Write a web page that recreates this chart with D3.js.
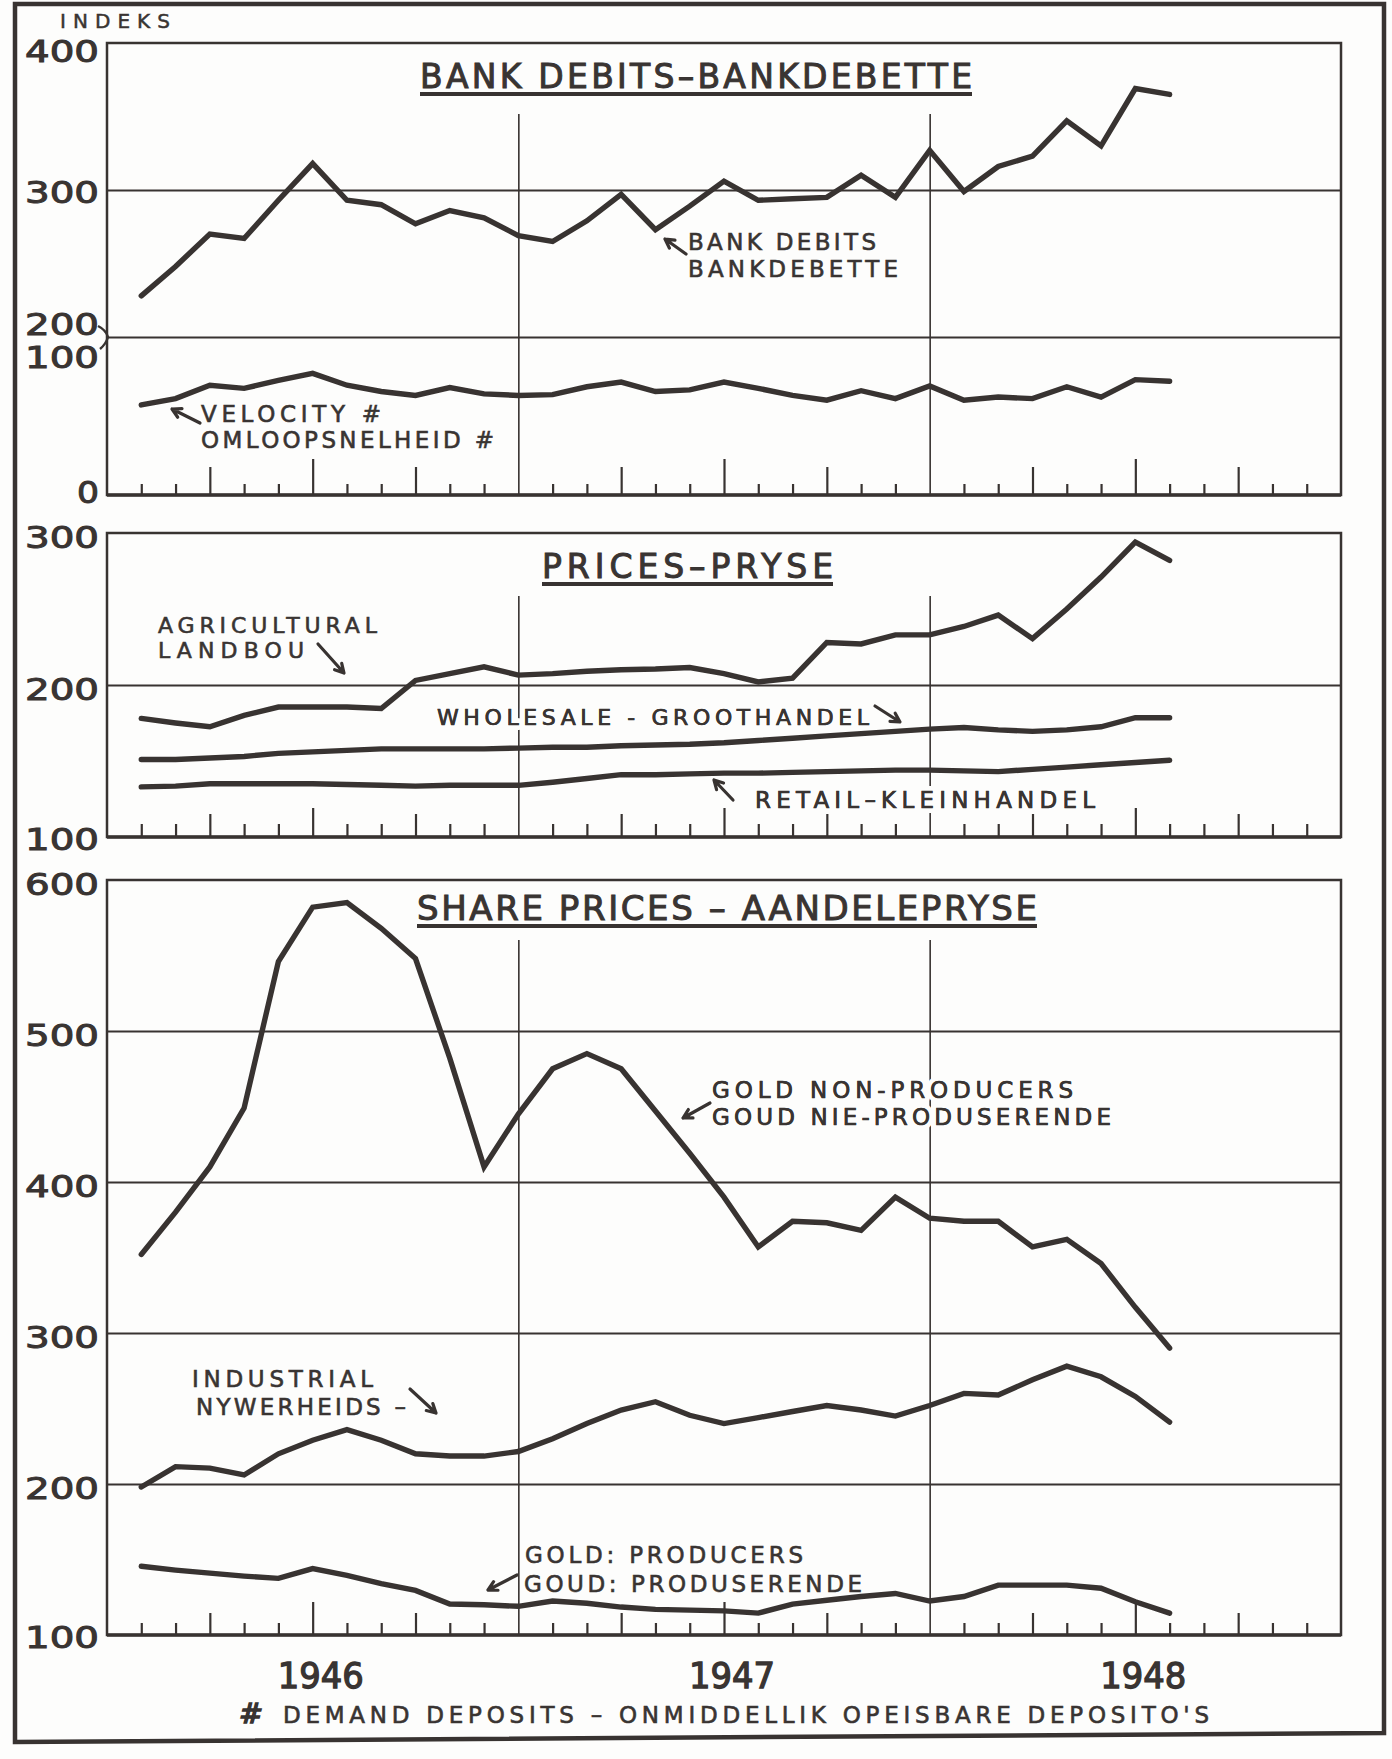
<!DOCTYPE html>
<html>
<head>
<meta charset="utf-8">
<script src="https://cdn.jsdelivr.net/npm/d3@7"></script>
<style>
  body { margin: 0; background: #fdfdfc; }
  svg { display: block; }
  text { font-family: "DejaVu Sans", sans-serif; fill: #3a3533; }
</style>
</head>
<body>
<svg id="chart" width="1392" height="1759"></svg>
<script>
// month index counted from Dec 1945 = 0; data run Jan 1946 (1) .. Jul 1948 (31)
const months = d3.range(1, 32);
const years = ["1946", "1947", "1948"];

const bankDebits = [228, 248, 270, 267, 293, 318, 293, 290, 277, 286, 281, 269, 265, 279, 297, 273,
  289, 306, 293, 294, 295, 310, 295, 327, 299, 316, 323, 347, 330, 369, 365];
const velocity = [57, 61, 69.5, 67.5, 72.5, 77, 69.5, 65.5, 63, 68, 64, 63, 63.5, 68.5, 71.5, 65.5,
  66.5, 71.5, 67.5, 63, 60, 66, 61, 69, 60, 62, 61, 68.5, 62, 73, 72];

const agricultural = [178, 175, 172.5, 180, 185.5, 185.5, 185.5, 184.5, 203, 207.5, 212, 206.5, 207.5, 209, 210, 210.5,
  211.5, 207.5, 202, 204.5, 228, 227, 233, 233, 238.5, 246, 230.5, 250, 271, 294, 282];
const wholesale = [151, 151, 152, 153, 155, 156, 157, 158, 158, 158, 158, 158.5, 159, 159, 160, 160.5,
  161, 162, 163.5, 165, 166.5, 168, 169.5, 171, 172, 170.5, 169.5, 170.5, 172.5, 178.5, 178.5];
const retail = [133, 133.5, 135, 135, 135, 135, 134.5, 134, 133.5, 134, 134, 134, 136, 138.5, 141, 141,
  141.5, 142, 142, 142.5, 143, 143.5, 144, 144, 143.5, 143, 144.5, 146, 147.5, 149, 150.5];

const goldNonProducers = [352, 380, 410, 449, 546, 582, 585, 568, 548, 482, 410, 445, 475, 485, 475, 447,
  419, 390, 357, 374, 373, 368, 390, 376, 374, 374, 357, 362, 346, 317, 290];
const industrial = [198, 211.5, 210.5, 206, 220, 229, 236, 229, 220, 218.5, 218.5, 221.5, 230, 240, 249, 254.5,
  245.5, 240, 244, 248, 252, 249, 245, 252, 260, 259, 269, 278, 271, 258, 241];
const goldProducers = [145.5, 143, 141, 139, 137.5, 144, 139.5, 134, 129.5, 120.5, 120, 119, 122.5, 121, 118.5, 117,
  116.5, 116, 114.5, 120.5, 123, 125.5, 127.5, 122.5, 125.5, 133, 133, 133, 131, 122, 114.5];

const bankTicks = [400, 300, 200];
const velTicks = [100, 0];
const priceTicks = [300, 200, 100];
const shareTicks = [600, 500, 400, 300, 200, 100];

const ink = "#383331";
const paper = "#fdfdfc";
const svg = d3.select("#chart");

const x = d3.scaleLinear().domain([0, 36]).range([107, 1341]);
const yBank = d3.scaleLinear().domain([200, 400]).range([337, 43]);
const yVel = d3.scaleLinear().domain([0, 100]).range([495, 337]);
const yPrice = d3.scaleLinear().domain([100, 300]).range([837, 533]);
const yShare = d3.scaleLinear().domain([100, 600]).range([1635, 880]);

// outer frame
svg.append("path")
  .attr("d", "M15,4 L1384,4 L1384,1733 L15,1742 Z")
  .attr("fill", "none").attr("stroke", ink).attr("stroke-width", 4.5);

const panels = [
  { top: 43, bottom: 495, gridTop: 114, ticks: [11, 28, 36], grid: [[yBank, [300, 200]]] },
  { top: 533, bottom: 837, gridTop: 596, ticks: [13, 23, 29], grid: [[yPrice, [200]]] },
  { top: 880, bottom: 1635, gridTop: 940, ticks: [12, 22, 33], grid: [[yShare, [500, 400, 300, 200]]] }
];

const w = x(36) - x(0);
const minorK = d3.range(1, 36).filter(k => k % 3 !== 0);
const quarterK = d3.range(1, 36).filter(k => k % 12 === 3 || k % 12 === 9);
const midK = d3.range(1, 36).filter(k => k % 12 === 6);

panels.forEach(p => {
  const g = svg.append("g").attr("color", ink);

  // horizontal grid
  p.grid.forEach(([scale, vals]) => {
    g.append("g")
      .attr("transform", `translate(${x(0)},0)`)
      .call(d3.axisLeft(scale).tickValues(vals).tickSize(-w).tickFormat(""))
      .call(a => a.select(".domain").remove())
      .selectAll("line").attr("stroke-width", 2.1);
  });

  // year dividers
  g.append("g")
    .attr("transform", `translate(0,${p.bottom})`)
    .call(d3.axisBottom(x).tickValues([12, 24]).tickSize(-(p.bottom - p.gridTop)).tickFormat(""))
    .call(a => a.select(".domain").remove())
    .selectAll("line").attr("stroke-width", 1.6);

  // month ticks
  [[minorK, p.ticks[0]], [quarterK, p.ticks[1]], [midK, p.ticks[2]]].forEach(([ks, len]) => {
    g.append("g")
      .attr("transform", `translate(0,${p.bottom})`)
      .call(d3.axisBottom(x).tickValues(ks).tickSize(-len).tickFormat(""))
      .call(a => a.select(".domain").remove())
      .selectAll("line").attr("stroke-width", 2.2);
  });

  g.append("rect")
    .attr("x", x(0)).attr("y", p.top)
    .attr("width", w).attr("height", p.bottom - p.top)
    .attr("fill", "none").attr("stroke", ink).attr("stroke-width", 2.5);
  g.append("line")
    .attr("x1", x(0)).attr("x2", x(36))
    .attr("y1", p.bottom).attr("y2", p.bottom)
    .attr("stroke", ink).attr("stroke-width", 3.4);
});

// y labels
function yLabel(v, y, dy) {
  const s = String(v);
  svg.append("text")
    .attr("x", 99).attr("y", y + dy)
    .attr("text-anchor", "end")
    .attr("font-size", 30)
    .attr("stroke", ink).attr("stroke-width", 1)
    .attr("textLength", s.length === 1 ? 22 : 74)
    .attr("lengthAdjust", "spacingAndGlyphs")
    .text(s);
}
bankTicks.forEach(v => yLabel(v, yBank(v), v === 400 ? 19 : v === 200 ? -2 : 13));
velTicks.forEach(v => yLabel(v, yVel(v), v === 100 ? 31 : 8));
priceTicks.forEach(v => yLabel(v, yPrice(v), v === 100 ? 13 : 15));
shareTicks.forEach(v => yLabel(v, yShare(v), v === 100 ? 13 : 15));

// bracket joining 200 / 100
svg.append("path")
  .attr("d", "M98,326 Q106,330 108,337 Q106,344 100,349")
  .attr("fill", "none").attr("stroke", ink).attr("stroke-width", 2.4);

// data lines
function series(data, scale) {
  const line = d3.line().x((d, i) => x(months[i])).y(d => scale(d));
  svg.append("path")
    .attr("d", line(data))
    .attr("fill", "none")
    .attr("stroke", ink)
    .attr("stroke-width", 5.4)
    .attr("stroke-linejoin", "miter")
    .attr("stroke-linecap", "round");
}
series(bankDebits, yBank);
series(velocity, yVel);
series(agricultural, yPrice);
series(wholesale, yPrice);
series(retail, yPrice);
series(goldNonProducers, yShare);
series(industrial, yShare);
series(goldProducers, yShare);

// text helper
function label(str, x0, y0, size, len, opts = {}) {
  const t = svg.append("text")
    .attr("x", x0).attr("y", y0)
    .attr("font-size", size)
    .attr("textLength", len)
    .attr("lengthAdjust", opts.adjust || "spacing")
    .text(str);
  if (opts.anchor) t.attr("text-anchor", opts.anchor);
  if (opts.halo) {
    // paper-coloured halo breaks the grid behind the lettering, as in the drawing
    t.attr("stroke", paper).attr("stroke-width", 10)
      .attr("paint-order", "stroke").attr("stroke-linejoin", "round");
    svg.append("text")
      .attr("x", x0).attr("y", y0)
      .attr("font-size", size)
      .attr("textLength", len)
      .attr("lengthAdjust", opts.adjust || "spacing")
      .attr("stroke", ink).attr("stroke-width", opts.bold || 0)
      .text(str);
  } else if (opts.bold) {
    t.attr("stroke", ink).attr("stroke-width", opts.bold);
  }
  return t;
}

function arrow(x1, y1, x2, y2) {
  const a = Math.atan2(y2 - y1, x2 - x1);
  const L = 10, s = 0.5;
  const p = d3.path();
  p.moveTo(x1, y1); p.lineTo(x2, y2);
  p.moveTo(x2 - L * Math.cos(a - s), y2 - L * Math.sin(a - s));
  p.lineTo(x2, y2);
  p.lineTo(x2 - L * Math.cos(a + s), y2 - L * Math.sin(a + s));
  svg.append("path").attr("d", p.toString())
    .attr("fill", "none").attr("stroke", ink).attr("stroke-width", 3.2)
    .attr("stroke-linecap", "round").attr("stroke-linejoin", "round");
}

label("INDEKS", 60, 28, 20, 110, { bold: 0.5 });

// titles
function title(str, x0, x1, yb, size) {
  label(str, x0, yb, size, x1 - x0, { bold: 1 });
  svg.append("line").attr("x1", x0).attr("x2", x1).attr("y1", yb + 6).attr("y2", yb + 6)
    .attr("stroke", ink).attr("stroke-width", 3.8);
}
title("BANK DEBITS–BANKDEBETTE", 420, 972, 88, 33);
title("PRICES–PRYSE", 542, 833, 578, 33);
title("SHARE PRICES – AANDELEPRYSE", 417, 1037, 920, 34);

// series annotations
const note = 23, nb = 0.6;
arrow(686, 254, 665, 239);
label("BANK DEBITS", 688, 250, note, 188, { bold: nb });
label("BANKDEBETTE", 688, 277, note, 210, { bold: nb });

arrow(200, 423, 172, 409);
label("VELOCITY #", 201, 422, note, 180, { bold: nb });
label("OMLOOPSNELHEID #", 201, 448, note, 293, { bold: nb });

label("AGRICULTURAL", 158, 633, 22, 219, { bold: nb });
label("LANDBOU", 158, 658, 22, 146, { bold: nb });
arrow(318, 644, 344, 673);

label("WHOLESALE - GROOTHANDEL", 437, 725, 22, 432, { halo: true, bold: nb });
arrow(875, 706, 900, 722);

arrow(733, 800, 714, 780);
label("RETAIL–KLEINHANDEL", 755, 808, note, 340, { halo: true, bold: nb });

label("GOLD NON-PRODUCERS", 712, 1098, note, 361, { halo: true, bold: nb });
label("GOUD NIE-PRODUSERENDE", 712, 1125, note, 399, { halo: true, bold: nb });
arrow(710, 1103, 683, 1118);

label("INDUSTRIAL", 192, 1387, note, 181, { bold: nb });
label("NYWERHEIDS –", 196, 1415, note, 210, { bold: nb });
arrow(410, 1389, 436, 1413);

label("GOLD: PRODUCERS", 525, 1563, note, 278, { bold: nb });
label("GOUD: PRODUSERENDE", 524, 1592, note, 338, { bold: nb });
arrow(517, 1575, 488, 1590);

// years
years.forEach((yr, i) => {
  label(yr, x(12 * i + 6) + 8, 1688, 35, 86, { anchor: "middle", adjust: "spacingAndGlyphs", bold: 1.3 });
});

// footnote
label("#", 239, 1723, 26, 24, { adjust: "spacingAndGlyphs", bold: 1.4 }).attr("font-style", "italic");
label("DEMAND DEPOSITS – ONMIDDELLIK OPEISBARE DEPOSITO'S", 283, 1723, 23, 926, { bold: nb });
</script>
</body>
</html>
